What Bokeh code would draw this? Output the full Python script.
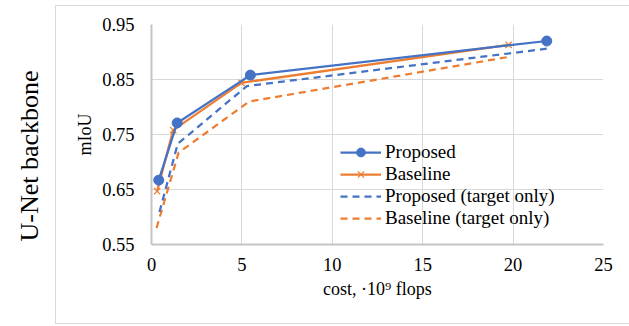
from bokeh.plotting import figure
from bokeh.layouts import row
from bokeh.models import (Range1d, FixedTicker, PrintfTickFormatter, Legend, LegendItem, Div)
from bokeh.embed import file_html
from bokeh.resources import INLINE

# ---- data ----
proposed_x = [0.40, 1.42, 5.47, 21.86]
proposed_y = [0.667, 0.771, 0.858, 0.920]
baseline_x = [0.31, 1.20, 4.97, 19.75]
baseline_y = [0.647, 0.758, 0.844, 0.913]
proposed_to_x = [0.44, 1.45, 5.27, 21.86]
proposed_to_y = [0.609, 0.733, 0.838, 0.906]
baseline_to_x = [0.28, 1.50, 5.40, 19.75]
baseline_to_y = [0.580, 0.717, 0.810, 0.891]
x_ticks = [0, 5, 10, 15, 20, 25]
y_ticks = [0.55, 0.65, 0.75, 0.85, 0.95]
side_title = "U-Net backbone"

BLUE = "#4472C4"
ORANGE = "#ED7D31"
FONT = "Liberation Serif"

p = figure(width=575, height=317, output_backend="svg", toolbar_location=None,
           x_range=Range1d(0, 25), y_range=Range1d(0.55, 0.95),
           min_border_left=95, min_border_right=28, min_border_top=18, min_border_bottom=79,
           styles={"outline": "1px solid #d9d9d9"})
p.margin = (6, 0, 0, 0)
p.outline_line_color = None
p.background_fill_color = "white"
p.border_fill_color = "white"

p.axis.axis_line_color = "#c4c4c4"
p.axis.axis_line_width = 2
p.axis.major_tick_line_color = None
p.axis.minor_tick_line_color = None
p.axis.major_tick_out = 0
p.axis.major_tick_in = 0
p.axis.major_label_text_font = FONT
p.axis.major_label_text_font_size = "18.5px"
p.axis.major_label_text_color = "black"
p.axis.axis_label_text_font = FONT
p.axis.axis_label_text_font_size = "18px"
p.axis.axis_label_text_font_style = "normal"
p.axis.axis_label_text_color = "black"

p.xaxis.ticker = FixedTicker(ticks=x_ticks)
p.yaxis.ticker = FixedTicker(ticks=y_ticks)
p.xaxis.formatter = PrintfTickFormatter(format="%d")
p.yaxis.formatter = PrintfTickFormatter(format="%.2f")
p.xaxis.major_label_standoff = 13
p.yaxis.major_label_standoff = 17
p.xaxis.axis_label = "cost, ·10⁹ flops"
p.yaxis.axis_label = "mIoU"
p.xaxis.axis_label_standoff = 5
p.yaxis.axis_label_standoff = 4

p.xgrid.ticker = FixedTicker(ticks=x_ticks)
p.ygrid.ticker = FixedTicker(ticks=y_ticks)
p.grid.grid_line_color = "#d9d9d9"
p.grid.grid_line_width = 1

r_bto = p.line(baseline_to_x, baseline_to_y, line_color=ORANGE, line_width=2.25, line_dash="7 5")
r_pto = p.line(proposed_to_x, proposed_to_y, line_color=BLUE, line_width=2.25, line_dash="7 5")
r_bl = p.line(baseline_x, baseline_y, line_color=ORANGE, line_width=2.25)
r_bm = p.scatter(baseline_x, baseline_y, marker="x", size=9, line_color=ORANGE, line_width=1.2)
r_pl = p.line(proposed_x, proposed_y, line_color=BLUE, line_width=2.25)
r_pm = p.scatter(proposed_x, proposed_y, marker="circle", size=10, fill_color=BLUE, line_color=BLUE)

legend = Legend(items=[
    LegendItem(label="Proposed", renderers=[r_pl, r_pm]),
    LegendItem(label="Baseline", renderers=[r_bl, r_bm]),
    LegendItem(label="Proposed (target only)", renderers=[r_pto]),
    LegendItem(label="Baseline (target only)", renderers=[r_bto]),
], location=(189, 15))
legend.padding = 0
legend.margin = 0
legend.spacing = 0
legend.glyph_width = 41
legend.glyph_height = 22
legend.label_height = 22
legend.label_standoff = 4
legend.label_text_font = FONT
legend.label_text_font_size = "19px"
legend.label_text_color = "black"
legend.border_line_color = None
legend.background_fill_alpha = 0
p.add_layout(legend, "center")

side = Div(text=('<div style="position:absolute; left:30px; top:156px; '
                 'transform:translate(-50%,-50%) rotate(-90deg); white-space:nowrap; '
                 'font-family:\'Liberation Serif\'; font-size:26px; color:black; line-height:1;">'
                 + side_title + '</div>'),
           width=56, height=326, styles={"position": "relative"})
side.margin = (0, 0, 0, 0)

root = row(side, p)
root.spacing = 0
open("out.html", "w").write(file_html(root, INLINE))
